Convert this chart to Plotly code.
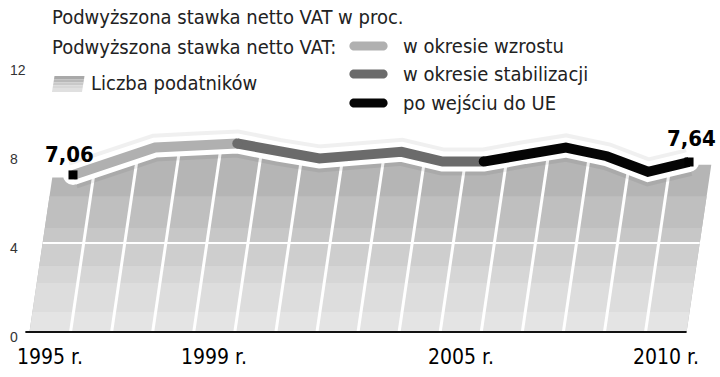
import plotly.graph_objects as go

# ---------------- data ----------------
lata = list(range(1995, 2011))
stawka_vat = [7.06, 7.65, 8.29, 8.38, 8.47, 8.10, 7.80, 7.95, 8.10, 7.66, 7.66, 8.00, 8.29, 7.90, 7.20, 7.64]
liczba_podatnikow = [6.94, 7.53, 8.17, 8.26, 8.35, 7.98, 7.68, 7.83, 7.98, 7.54, 7.54, 7.88, 8.17, 7.78, 7.08, 7.52]

okresy_nazwy = ["w okresie wzrostu", "w okresie stabilizacji", "po wejściu do UE"]
okresy_od = [1995, 1999, 2005]
okresy_do = [1999, 2005, 2010]

y_ticks = [0, 4, 8, 12]
x_tick_lata = [1995, 1999, 2005, 2010]
x_tick_etykiety = ["1995 r.", "1999 r.", "2005 r.", "2010 r."]

tytul = "Podwyższona stawka netto VAT w proc."
legenda_vat = "Podwyższona stawka netto VAT:"
legenda_pod = "Liczba podatników"

# ---------------- style ----------------
W, H = 720, 377
X0_PX, PX_PER_YEAR = 73.0, 41.07
Y0_PX, PX_PER_UNIT = 332.0, 22.25
SKEW = 0.08        # horizontal shear of the taxpayer columns (years per unit)
V_REF = 7.0
kolory_okresow = ["#b0b0b0", "#6b6b6b", "#050505"]
FONT = "Liberation Sans Narrow, DejaVu Sans Condensed, Liberation Sans, sans-serif"
bands = [(0.0, 0.9, "#e4e4e4"), (0.9, 2.2, "#dddddd"), (2.2, 3.0, "#d6d6d6"),
         (3.0, 4.0, "#cecece"), (4.0, 4.7, "#c7c7c7"), (4.7, 6.1, "#bfbfbf")]
TOP_COLOR = "#b5b5b5"

x_min = 1995 - X0_PX / PX_PER_YEAR
x_max = 1995 + (W - X0_PX) / PX_PER_YEAR
y_max = Y0_PX / PX_PER_UNIT
y_min = -(H - Y0_PX) / PX_PER_UNIT


def px(x):
    return x / W


def py(y):
    return 1 - y / H


def shear(x, v):
    return x + SKEW * (v - V_REF)


first, last = lata[0], lata[-1]
left_edge = first - 0.5
right_edge = last + 0.5

fig = go.Figure()

# ---- taxpayer area (skewed columns) ----
ax = [shear(left_edge, 0), shear(left_edge, liczba_podatnikow[0])] + lata + \
     [shear(right_edge, liczba_podatnikow[-1]), shear(right_edge, 0), shear(left_edge, 0)]
ay = [0, liczba_podatnikow[0]] + liczba_podatnikow + [liczba_podatnikow[-1], 0, 0]
fig.add_trace(go.Scatter(x=ax, y=ay, fill="toself", fillcolor=TOP_COLOR, mode="lines",
                         line=dict(width=0), hoverinfo="skip", showlegend=False))
for lo, hi, col in bands:
    bx = [shear(left_edge, lo), shear(right_edge, lo), shear(right_edge, hi), shear(left_edge, hi), shear(left_edge, lo)]
    by = [lo, lo, hi, hi, lo]
    fig.add_trace(go.Scatter(x=bx, y=by, fill="toself", fillcolor=col, mode="lines",
                             line=dict(width=0), hoverinfo="skip", showlegend=False))

# gridline at 4 inside the area
for t in y_ticks:
    if 0 < t < min(liczba_podatnikow):
        fig.add_trace(go.Scatter(x=[shear(left_edge, t), shear(right_edge, t)], y=[t, t], mode="lines",
                                 line=dict(color="white", width=2), hoverinfo="skip", showlegend=False))

# column separators
for i in range(len(lata) - 1):
    b = lata[i] + 0.5
    vt = max(liczba_podatnikow[i], liczba_podatnikow[i + 1]) + 0.3
    fig.add_trace(go.Scatter(x=[shear(b, 0), shear(b, vt)], y=[0, vt], mode="lines",
                             line=dict(color="white", width=3), hoverinfo="skip", showlegend=False))

# axis line
fig.add_trace(go.Scatter(x=[shear(left_edge, 0) - 0.1, shear(right_edge, 0)], y=[0, 0], mode="lines",
                         line=dict(color="#111111", width=2), hoverinfo="skip", showlegend=False))

# ---- VAT line ----
fig.add_trace(go.Scatter(x=lata, y=stawka_vat, mode="lines",
                         line=dict(color="rgba(0,0,0,0.06)", width=28), hoverinfo="skip", showlegend=False))
fig.add_trace(go.Scatter(x=lata, y=stawka_vat, mode="lines",
                         line=dict(color="white", width=20), hoverinfo="skip", showlegend=False))
fig.add_trace(go.Scatter(x=[lata[0], lata[-1]], y=[stawka_vat[0], stawka_vat[-1]], mode="markers",
                         marker=dict(color="white", size=20, line=dict(width=0)), hoverinfo="skip", showlegend=False))
for nazwa, od, do, kol in zip(okresy_nazwy, okresy_od, okresy_do, kolory_okresow):
    xs = [x for x in lata if od <= x <= do]
    ys = [stawka_vat[lata.index(x)] for x in xs]
    fig.add_trace(go.Scatter(x=xs, y=ys, mode="lines", line=dict(color=kol, width=10),
                             name=nazwa, hoverinfo="skip", showlegend=False))
    if od != lata[0]:
        fig.add_trace(go.Scatter(x=[xs[0]], y=[ys[0]], mode="markers",
                                 marker=dict(color=kol, size=10, line=dict(width=0)),
                                 hoverinfo="skip", showlegend=False))
fig.add_trace(go.Scatter(x=[lata[0], lata[-1]], y=[stawka_vat[0], stawka_vat[-1]], mode="markers",
                         marker=dict(color="black", size=9, symbol="square", line=dict(width=0)),
                         hoverinfo="skip", showlegend=False))

annotations = []
# value labels
for x, v, dx, dy in [(lata[0], stawka_vat[0], -4, 20), (lata[-1], stawka_vat[-1], 2, 24)]:
    annotations.append(dict(x=x, y=v, xref="x", yref="y", text="<b>" + f"{v:.2f}".replace(".", ",") + "</b>",
                            showarrow=False, xshift=dx, yshift=dy, font=dict(family=FONT, size=22, color="black")))
# y tick labels
for t in y_ticks:
    annotations.append(dict(x=px(8), y=t, xref="paper", yref="y", text=str(t), xanchor="left",
                            yanchor="middle", yshift=-5, showarrow=False,
                            font=dict(family="Liberation Sans, sans-serif", size=14, color="#333333")))
# x tick labels
for yr, lab in zip(x_tick_lata, x_tick_etykiety):
    annotations.append(dict(x=shear(yr, 0), y=py(357), xref="x", yref="paper", text=lab, xanchor="center",
                            yanchor="middle", showarrow=False, font=dict(family=FONT, size=21, color="black")))
# titles / legend texts
annotations.append(dict(x=px(50), y=py(17), xref="paper", yref="paper", text=tytul, xanchor="left",
                        yanchor="middle", showarrow=False, font=dict(family=FONT, size=20, color="#222222")))
annotations.append(dict(x=px(50), y=py(47), xref="paper", yref="paper", text=legenda_vat, xanchor="left",
                        yanchor="middle", showarrow=False, font=dict(family=FONT, size=20, color="#222222")))
annotations.append(dict(x=px(89), y=py(83), xref="paper", yref="paper", text=legenda_pod, xanchor="left",
                        yanchor="middle", showarrow=False, font=dict(family=FONT, size=20, color="#222222")))
leg_y = [46, 74, 103]
for nazwa, kol, yc in zip(okresy_nazwy, kolory_okresow, leg_y):
    annotations.append(dict(x=px(401), y=py(yc), xref="paper", yref="paper", text=nazwa, xanchor="left",
                            yanchor="middle", showarrow=False, font=dict(family=FONT, size=20, color="#222222")))

shapes = []


def capsule(x0, x1, yc, r):
    k = 0.5523
    pts = [("M", [(x0, yc - r)]), ("L", [(x1, yc - r)]),
           ("C", [(x1 + k * r, yc - r), (x1 + r, yc - k * r), (x1 + r, yc)]),
           ("C", [(x1 + r, yc + k * r), (x1 + k * r, yc + r), (x1, yc + r)]),
           ("L", [(x0, yc + r)]),
           ("C", [(x0 - k * r, yc + r), (x0 - r, yc + k * r), (x0 - r, yc)]),
           ("C", [(x0 - r, yc - k * r), (x0 - k * r, yc - r), (x0, yc - r)])]
    s = ""
    for cmd, pp in pts:
        s += cmd + " " + " ".join(f"{px(a):.5f},{py(b):.5f}" for a, b in pp) + " "
    return s + "Z"


for kol, yc in zip(kolory_okresow, leg_y):
    shapes.append(dict(type="path", xref="paper", yref="paper", path=capsule(354, 383, yc, 4.6),
                       fillcolor=kol, line=dict(width=0)))

# gradient swatch for taxpayers
sw_cols = ["#a9a9a9", "#b9b9b9", "#c9c9c9", "#d7d7d7", "#e0e0e0"]
top, bot = 76.0, 92.0
hstep = (bot - top) / len(sw_cols)
for i, c in enumerate(sw_cols):
    y0 = top + i * hstep
    y1 = y0 + hstep
    sk0 = 2.5 * (bot - y0) / (bot - top)
    sk1 = 2.5 * (bot - y1) / (bot - top)
    path = (f"M {px(52 + sk1):.5f},{py(y1):.5f} L {px(82 + sk1):.5f},{py(y1):.5f} "
            f"L {px(82 + sk0):.5f},{py(y0):.5f} L {px(52 + sk0):.5f},{py(y0):.5f} Z")
    shapes.append(dict(type="path", xref="paper", yref="paper", path=path, fillcolor=c, line=dict(width=0)))

fig.update_layout(
    width=W, height=H, margin=dict(l=0, r=0, t=0, b=0),
    paper_bgcolor="white", plot_bgcolor="white",
    xaxis=dict(range=[x_min, x_max], visible=False, fixedrange=True),
    yaxis=dict(range=[y_min, y_max], visible=False, fixedrange=True),
    annotations=annotations, shapes=shapes, showlegend=False,
)

fig.write_html("out.html", config={"displayModeBar": False},
               post_script="document.body.style.margin='0';document.body.style.overflow='hidden';")
